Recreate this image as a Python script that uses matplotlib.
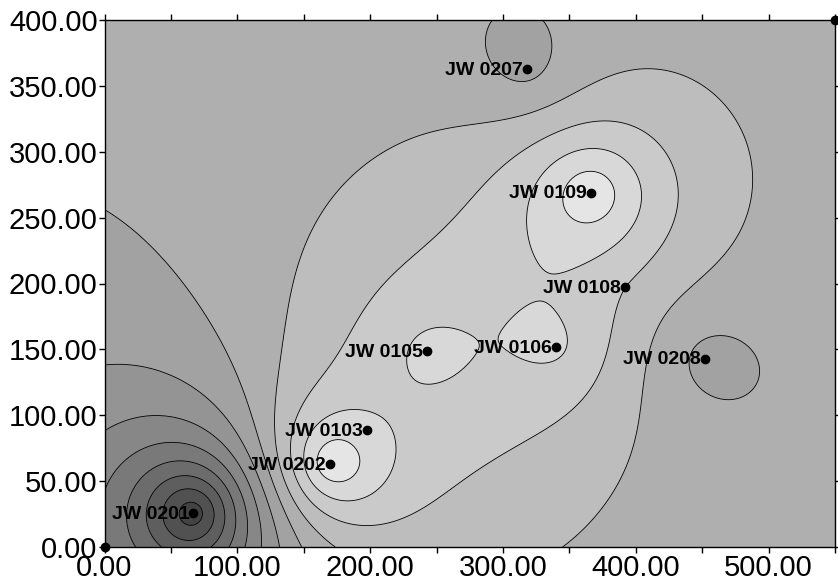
import numpy as np
import matplotlib
matplotlib.use("Agg")
import matplotlib.pyplot as plt
from matplotlib.ticker import MultipleLocator, FormatStrFormatter

# well positions and measured values
well_names = ["JW 0201", "JW 0202", "JW 0103", "JW 0105", "JW 0106",
              "JW 0108", "JW 0109", "JW 0207", "JW 0208"]
well_x = [67, 170, 198, 243, 340, 392, 366, 318, 452]
well_y = [26, 63, 89, 149, 152, 197, 269, 363, 143]
well_z = [-7.6, 4.8, 3.3, 3.25, 3.2, 2.0, 4.8, -0.3, -0.3]

# grid corners (posted as dots)
corner_x = [0, 550]
corner_y = [0, 400]

field_mean = 0.2
levels = np.arange(-8, 6)


def matern(d, r):
    s = np.sqrt(3) * d / r
    return (1 + s) * np.exp(-s)


def covariance(d):
    return 0.15 * np.exp(-d / 30) + 0.4 * matern(d, 40) + 0.45 * matern(d, 130)


def krige(gx, gy):
    """Simple kriging of the well values onto the grid."""
    px = np.array(well_x, float)
    py = np.array(well_y, float)
    pz = np.array(well_z, float) - field_mean
    d = np.hypot(px[:, None] - px[None, :], py[:, None] - py[None, :])
    w = np.linalg.solve(covariance(d), pz)
    dg = np.hypot(gx[..., None] - px, gy[..., None] - py)
    return field_mean + covariance(dg) @ w


gx, gy = np.meshgrid(np.linspace(0, 550, 276), np.linspace(0, 400, 201))
gz = krige(gx, gy)

band_colors = [str((175 + 13.5 * k) / 255) for k in levels[:-1]]

fig = plt.figure(figsize=(8.38, 5.85), dpi=100)
ax = fig.add_axes([104.5 / 838, 1 - 547 / 585, (835 - 104.5) / 838, 527 / 585])

ax.contourf(gx, gy, np.clip(gz, -7.99, 4.99), levels=levels, colors=band_colors)
ax.contour(gx, gy, gz, levels=levels, colors="black", linewidths=0.6,
           linestyles="solid")

ax.plot(well_x, well_y, "o", color="black", markersize=6)
ax.plot(corner_x, corner_y, "o", color="black", markersize=6, clip_on=False, zorder=5)
for name, x, y in zip(well_names, well_x, well_y):
    ax.annotate(name, (x, y), xytext=(-3, -1), textcoords="offset points",
                ha="right", va="center", fontsize=14, fontweight="bold",
                family="Liberation Sans")

ax.set_xlim(0, 550)
ax.set_ylim(0, 400)
ax.xaxis.set_major_locator(MultipleLocator(100))
ax.xaxis.set_minor_locator(MultipleLocator(50))
ax.yaxis.set_major_locator(MultipleLocator(50))
ax.xaxis.set_major_formatter(FormatStrFormatter("%.2f"))
ax.yaxis.set_major_formatter(FormatStrFormatter("%.2f"))
ax.tick_params(which="both", direction="out", length=4, width=1,
               top=True, right=True, labelsize=21, pad=1)
for lab in ax.get_xticklabels() + ax.get_yticklabels():
    lab.set_family("Liberation Sans")
for s in ax.spines.values():
    s.set_linewidth(1)

fig.savefig("out.png", dpi=100)
